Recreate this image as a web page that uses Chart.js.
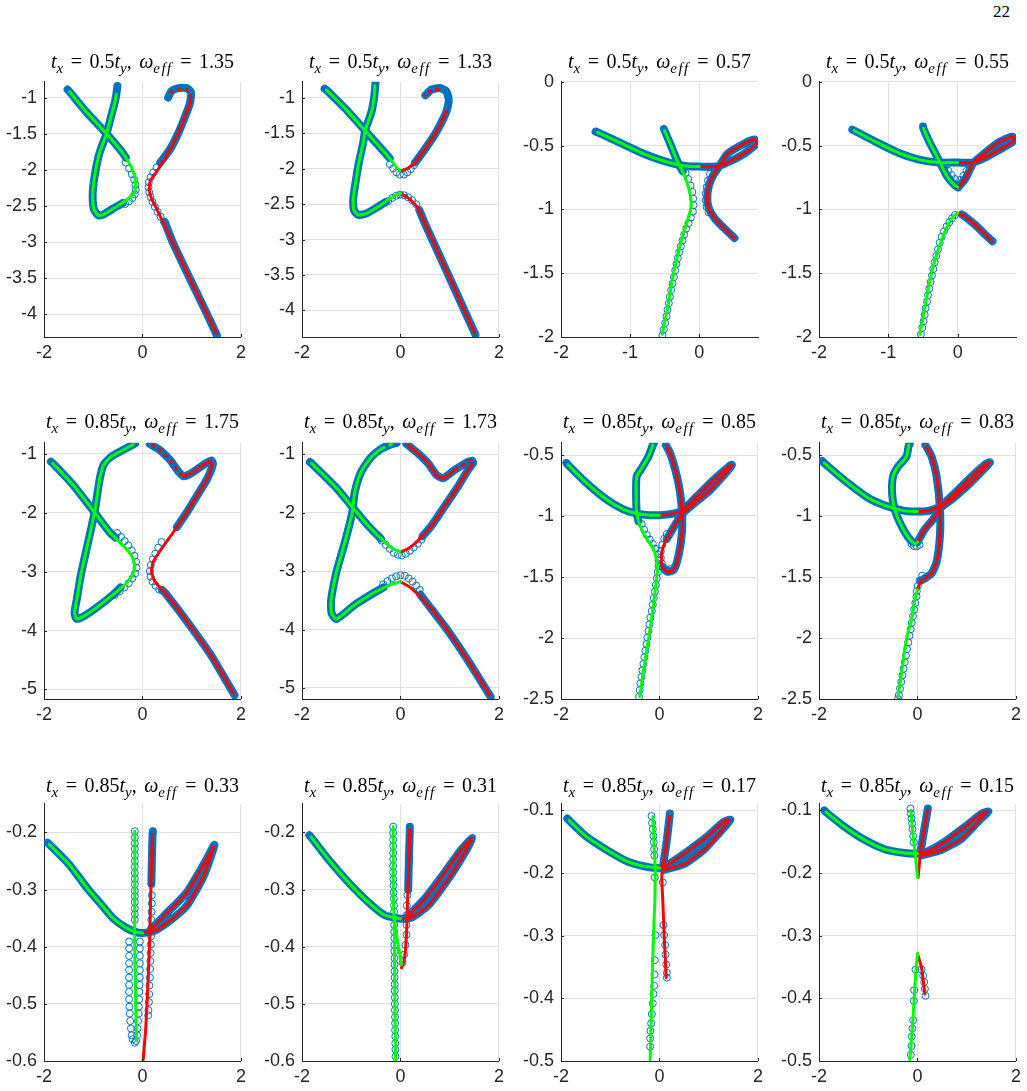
<!DOCTYPE html>
<html><head><meta charset="utf-8">
<script src="https://cdn.jsdelivr.net/npm/chart.js@4.4.0/dist/chart.umd.min.js"></script>
<style>
html,body{margin:0;padding:0;background:#fff;overflow:hidden;}
body{width:1027px;height:1091px;position:relative;}
canvas{position:absolute;}
.ttl{position:absolute;font:20px "Liberation Serif","Times New Roman",serif;color:#000;white-space:nowrap;line-height:20px;word-spacing:2.5px;transform:translateX(-50%);}
.ttl sub{font-size:75%;line-height:0;vertical-align:-0.3em;word-spacing:0;}
.ttl .ef{letter-spacing:1.5px;}
#pg{position:absolute;left:993px;top:3px;font:17px "Liberation Serif","Times New Roman",serif;line-height:17px;color:#000;}
</style></head><body>
<div id="pg">22</div>
<script>
// ---------- titles ----------
const txCoef = ['0.5','0.5','0.5','0.5','0.85','0.85','0.85','0.85','0.85','0.85','0.85','0.85'];
const omegaEff = ['1.35','1.33','0.57','0.55','1.75','1.73','0.85','0.83','0.33','0.31','0.17','0.15'];

// ---------- axis limits & ticks ----------
const xMin = [-2,-2,-2,-2,-2,-2,-2,-2,-2,-2,-2,-2];
const xMax = [2,2,0.85,0.84,2,2,2,2,2,2,2,2];
const yMin = [-4.314,-4.376,-2,-2,-5.163,-5.19,-2.5,-2.5,-0.6,-0.6,-0.5,-0.5];
const yMax = [-0.782,-0.773,0,0,-0.81,-0.80,-0.40,-0.40,-0.15,-0.15,-0.0895,-0.0895];
const xTicksA = [-2,0,2];
const xTicksB = [-2,-1,0];
const yTicks1 = [-4,-3.5,-3,-2.5,-2,-1.5,-1];
const yTicks3 = [-2,-1.5,-1,-0.5,0];
const yTicks5 = [-5,-4,-3,-2,-1];
const yTicks7 = [-2.5,-2,-1.5,-1,-0.5];
const yTicks9 = [-0.6,-0.5,-0.4,-0.3,-0.2];
const yTicks11 = [-0.5,-0.4,-0.3,-0.2,-0.1];

// ---------- panel 1 ----------
const p1_band = [[-1.52,-0.89],[-1.48,-0.92],[-1.14,-1.20],[-0.73,-1.50],[-0.43,-1.74],[-0.34,-1.83],null,
 [-0.40,-2.46],[-0.53,-2.51],[-0.80,-2.62],[-0.90,-2.63],[-0.99,-2.54],[-1.01,-2.31],[-0.96,-2.04],[-0.87,-1.76],[-0.73,-1.50],[-0.63,-1.24],[-0.56,-1.06],[-0.53,-0.95],[-0.51,-0.84],null,
 [1.51,-4.29],[1.313,-4.0],[0.959,-3.5],[0.612,-3.0],[0.45,-2.72],null,
 [0.36,-1.90],[0.558,-1.718],[0.728,-1.491],[0.864,-1.264],[0.952,-1.105],[0.98,-1.01],[0.98,-0.92],[0.90,-0.87],[0.73,-0.87],[0.59,-0.91],[0.52,-1.0]];
const p1_green = [[-1.48,-0.92],[-1.14,-1.20],[-0.73,-1.50],[-0.43,-1.74],[-0.22,-1.97],[-0.14,-2.17],[-0.16,-2.31],[-0.29,-2.40],[-0.53,-2.51],[-0.80,-2.62],[-0.90,-2.63],[-0.99,-2.54],[-1.01,-2.31],[-0.96,-2.04],[-0.87,-1.76],[-0.73,-1.50],[-0.63,-1.24],[-0.56,-1.06],[-0.53,-0.95]];
const p1_red = [[1.50,-4.26],[1.313,-4.0],[0.959,-3.5],[0.612,-3.0],[0.381,-2.673],[0.286,-2.536],[0.184,-2.40],[0.136,-2.264],[0.163,-2.15],[0.252,-2.059],[0.354,-1.955],[0.558,-1.718],[0.728,-1.491],[0.864,-1.264],[0.952,-1.105],[0.98,-1.01]];
const p1_redDash = [[0.98,-1.01],[0.97,-0.93],[0.88,-0.89],[0.72,-0.89],[0.58,-0.93],[0.52,-0.99]];
const p1_greenDash = [];
const p1_rings = [[-0.340,-1.900],[-0.272,-1.982],[-0.218,-2.059],[-0.170,-2.136],[-0.143,-2.209],[-0.136,-2.277],[-0.156,-2.341],[-0.204,-2.391],[-0.272,-2.436],[-0.354,-2.473],
 [0.286,-1.968],[0.218,-2.036],[0.163,-2.105],[0.129,-2.173],[0.122,-2.241],[0.136,-2.309],[0.163,-2.377],[0.204,-2.445],[0.252,-2.514],[0.306,-2.582],[0.367,-2.650],[0.435,-2.718]];

// ---------- panel 2 ----------
const p2_band = [[-1.54,-0.87],[-1.50,-0.89],[-1.128,-1.148],[-0.723,-1.458],[-0.318,-1.773],[-0.22,-1.85],null,
 [0.30,-1.91],[0.324,-1.889],[0.493,-1.727],[0.696,-1.519],[0.865,-1.30],[0.932,-1.194],[0.98,-1.032],[0.932,-0.907],[0.797,-0.861],[0.628,-0.884],[0.507,-0.963],null,
 [-0.507,-0.79],[-0.534,-0.986],[-0.588,-1.194],[-0.716,-1.458],[-0.757,-1.634],[-0.845,-1.912],[-0.912,-2.19],[-0.959,-2.421],[-0.946,-2.583],[-0.858,-2.653],[-0.689,-2.63],[-0.453,-2.537],[-0.30,-2.47],null,
 [0.38,-2.58],[0.507,-2.792],[0.75,-3.162],[0.993,-3.532],[1.264,-3.949],[1.52,-4.34]];
const p2_green = [[-1.50,-0.89],[-1.128,-1.148],[-0.723,-1.458],[-0.318,-1.773],[-0.115,-1.949],[-0.014,-2.028],null,
 [-0.52,-0.83],[-0.534,-0.986],[-0.588,-1.194],[-0.716,-1.458],[-0.757,-1.634],[-0.845,-1.912],[-0.912,-2.19],[-0.959,-2.421],[-0.946,-2.583],[-0.858,-2.653],[-0.689,-2.63],[-0.453,-2.537],[-0.216,-2.421],[-0.081,-2.366],[0,-2.352]];
const p2_red = [[0.02,-2.028],[0.155,-1.995],[0.324,-1.889],[0.493,-1.727],[0.696,-1.519],[0.865,-1.30],[0.932,-1.194],null,
 [0,-2.352],[0.155,-2.412],[0.358,-2.56],[0.507,-2.792],[0.75,-3.162],[0.993,-3.532],[1.264,-3.949],[1.507,-4.319]];
const p2_redDash = [[0.797,-0.88],[0.662,-0.884],[0.527,-0.94],[0.49,-0.98]];
const p2_greenDash = [];
const p2_rings = [[-0.216,-1.935],[-0.149,-1.995],[-0.081,-2.051],[-0.014,-2.083],[0.068,-2.083],[0.142,-2.051],[0.209,-2.005],[0.277,-1.949],
 [-0.25,-2.458],[-0.169,-2.412],[-0.088,-2.380],[-0.007,-2.366],[0.074,-2.375],[0.155,-2.403],[0.236,-2.444],[0.318,-2.50]];

// ---------- panel 3 ----------
const p3_band = [[-1.50,-0.39],[-1.469,-0.397],[-1.14,-0.479],[-0.802,-0.564],[-0.512,-0.621],[-0.295,-0.651],[-0.126,-0.664],[0,-0.664],[0.164,-0.666],[0.30,-0.658],[0.454,-0.621],[0.647,-0.564],[0.80,-0.50],[0.84,-0.475],[0.80,-0.452],[0.647,-0.485],[0.406,-0.565],[0.30,-0.654],[0.198,-0.736],[0.14,-0.813],[0.116,-0.915],[0.14,-0.992],[0.222,-1.069],[0.357,-1.146],[0.51,-1.225],null,
 [-0.51,-0.37],[-0.502,-0.382],[-0.425,-0.479],[-0.357,-0.569],[-0.295,-0.646],[-0.24,-0.70]];
const p3_green = [[-1.469,-0.397],[-1.14,-0.479],[-0.802,-0.564],[-0.512,-0.621],[-0.295,-0.651],[-0.126,-0.664],[0,-0.664],null,
 [-0.502,-0.382],[-0.425,-0.479],[-0.357,-0.569],[-0.295,-0.646],[-0.213,-0.736],[-0.15,-0.838],[-0.116,-0.941],[-0.126,-1.005],[-0.174,-1.095],[-0.246,-1.223],[-0.319,-1.377],[-0.391,-1.556],[-0.454,-1.762],[-0.502,-1.89],[-0.536,-1.979]];
const p3_red = [[0,-0.664],[0.164,-0.666],[0.30,-0.658],[0.454,-0.621],[0.647,-0.564],[0.80,-0.50],[0.84,-0.475],null,
 [0.502,-1.223],[0.357,-1.146],[0.222,-1.069],[0.14,-0.992],[0.116,-0.915],[0.14,-0.813],[0.198,-0.736],[0.30,-0.654],[0.406,-0.565],[0.647,-0.485],[0.80,-0.452],[0.84,-0.47]];
const p3_redDash = [];
const p3_greenDash = [];
const p3_rings = [[0.155,-0.723],[0.126,-0.774],[0.106,-0.826],[0.092,-0.877],[0.092,-0.928],[0.106,-0.979],[0.135,-1.023],
 [-0.198,-0.715],[-0.159,-0.762],[-0.126,-0.813],[-0.101,-0.864],[-0.087,-0.915],[-0.082,-0.967],[-0.092,-1.018],[-0.121,-1.064],[-0.155,-1.108],[-0.188,-1.151],[-0.217,-1.197],[-0.242,-1.244],[-0.266,-1.290],[-0.29,-1.336],[-0.309,-1.382],[-0.329,-1.428],[-0.348,-1.479],[-0.367,-1.531],[-0.386,-1.582],[-0.406,-1.633],[-0.425,-1.685],[-0.44,-1.736],[-0.459,-1.787],[-0.473,-1.838],[-0.493,-1.890],[-0.512,-1.941],[-0.531,-1.987]];

// ---------- panel 4 ----------
const p4_band = [[-1.52,-0.375],[-1.494,-0.382],[-1.195,-0.467],[-0.858,-0.556],[-0.569,-0.608],[-0.28,-0.633],[0,-0.633],[0.217,-0.633],[0.395,-0.595],[0.588,-0.536],[0.78,-0.475],[0.83,-0.445],[0.78,-0.43],[0.588,-0.475],[0.395,-0.556],[0.23,-0.633],[0.178,-0.685],[0.106,-0.762],[0.01,-0.826],null,
 [-0.50,-0.35],[-0.496,-0.364],[-0.424,-0.454],[-0.328,-0.556],[-0.255,-0.633],[-0.159,-0.736],[-0.063,-0.80],[0,-0.826],null,
 [0.06,-1.04],[0.106,-1.056],[0.25,-1.121],[0.395,-1.197],[0.50,-1.25]];
const p4_green = [[-1.494,-0.382],[-1.195,-0.467],[-0.858,-0.556],[-0.569,-0.608],[-0.28,-0.633],[0,-0.633],null,
 [-0.496,-0.364],[-0.424,-0.454],[-0.328,-0.556],[-0.255,-0.633],[-0.159,-0.736],[-0.063,-0.80],[0,-0.826],null,
 [-0.545,-1.979],[-0.472,-1.762],[-0.40,-1.556],[-0.304,-1.351],[-0.183,-1.172],[-0.087,-1.069],[0,-1.031]];
const p4_red = [[0,-0.633],[0.217,-0.633],[0.395,-0.595],[0.588,-0.536],[0.78,-0.475],[0.83,-0.445],null,
 [0.01,-0.826],[0.106,-0.762],[0.178,-0.685],[0.23,-0.633],[0.395,-0.556],[0.588,-0.475],[0.78,-0.43],[0.83,-0.445],null,
 [0,-1.031],[0.106,-1.056],[0.25,-1.121],[0.395,-1.197],[0.49,-1.249]];
const p4_redDash = [];
const p4_greenDash = [];
const p4_rings = [[-0.183,-0.664],[-0.135,-0.697],[-0.087,-0.731],[-0.039,-0.762],[0.034,-0.769],[0.082,-0.736],[0.13,-0.697],[0.178,-0.664],
 [-0.530,-1.979],[-0.511,-1.928],[-0.492,-1.877],[-0.477,-1.826],[-0.463,-1.774],[-0.443,-1.723],[-0.429,-1.672],[-0.410,-1.621],[-0.39,-1.569],[-0.371,-1.518],[-0.352,-1.467],[-0.333,-1.415],[-0.308,-1.364],[-0.284,-1.313],[-0.26,-1.262],[-0.231,-1.215],[-0.198,-1.172],[-0.159,-1.133],[-0.12,-1.10],[-0.082,-1.069],[-0.039,-1.044]];

// ---------- panel 5 ----------
const p5_band = [[-1.86,-1.13],[-1.823,-1.156],[-1.415,-1.52],[-0.973,-1.994],[-0.667,-2.33],[-0.55,-2.42],null,
 [-0.45,-3.27],[-0.599,-3.391],[-0.939,-3.615],[-1.20,-3.76],[-1.34,-3.80],[-1.38,-3.70],[-1.33,-3.45],[-1.25,-3.05],[-1.11,-2.52],[-0.973,-1.994],[-0.871,-1.436],[-0.789,-1.184],[-0.633,-1.045],[-0.395,-0.933],[-0.19,-0.838],[-0.15,-0.82],null,
 [0.15,-0.83],[0.184,-0.849],[0.354,-0.933],[0.558,-1.101],[0.728,-1.296],[0.83,-1.38],[1.0,-1.324],[1.238,-1.184],[1.40,-1.11],[1.43,-1.17],[1.306,-1.436],[1.102,-1.715],[0.898,-1.994],[0.70,-2.24],null,
 [0.40,-3.31],[0.49,-3.391],[0.898,-3.838],[1.374,-4.397],[1.87,-5.10]];
const p5_green = [[-1.823,-1.156],[-1.415,-1.52],[-0.973,-1.994],[-0.667,-2.33],[-0.395,-2.553],[-0.224,-2.721],[-0.156,-2.888],[-0.19,-3.028],[-0.327,-3.196],[-0.599,-3.391],[-0.939,-3.615],[-1.20,-3.76],[-1.34,-3.80],[-1.38,-3.70],[-1.33,-3.45],[-1.25,-3.05],[-1.11,-2.52],[-0.973,-1.994],[-0.871,-1.436],[-0.789,-1.184],[-0.633,-1.045],[-0.395,-0.933],[-0.19,-0.838]];
const p5_red = [[0.83,-1.38],[1.0,-1.324],[1.238,-1.184],[1.374,-1.128],[1.408,-1.184],[1.306,-1.436],[1.102,-1.715],[0.898,-1.994],[0.626,-2.33],[0.388,-2.609],[0.218,-2.832],[0.184,-3.0],[0.252,-3.168],[0.49,-3.391],[0.898,-3.838],[1.374,-4.397],[1.85,-5.067]];
const p5_redDash = [[0.184,-0.849],[0.354,-0.933],[0.558,-1.101],[0.728,-1.296],[0.83,-1.38]];
const p5_greenDash = [];
const p5_rings = [[-0.517,-2.341],[-0.435,-2.408],[-0.361,-2.480],[-0.286,-2.553],[-0.218,-2.637],[-0.163,-2.732],[-0.129,-2.832],[-0.122,-2.933],[-0.150,-3.028],[-0.204,-3.112],[-0.279,-3.196],[-0.367,-3.268],[-0.463,-3.335],[-0.565,-3.397],
 [0.388,-2.497],[0.32,-2.592],[0.259,-2.693],[0.211,-2.788],[0.17,-2.888],[0.15,-2.989],[0.163,-3.084],[0.204,-3.168],[0.265,-3.240],[0.34,-3.307]];

// ---------- panel 6 ----------
const p6_band = [[-1.84,-1.13],[-1.804,-1.152],[-1.331,-1.546],[-0.993,-1.885],[-0.655,-2.223],[-0.40,-2.44],null,
 [0.12,-0.82],[0.155,-0.842],[0.358,-0.983],[0.561,-1.152],[0.73,-1.349],[0.865,-1.406],[1.101,-1.265],[1.372,-1.124],[1.46,-1.11],[1.473,-1.152],[1.372,-1.265],[1.169,-1.546],[0.899,-1.885],[0.628,-2.223],[0.45,-2.40],null,
 [-0.08,-0.80],[-0.149,-0.814],[-0.385,-0.899],[-0.60,-1.05],[-0.80,-1.30],[-0.93,-1.65],[-0.98,-2.0],[-1.128,-2.5],[-1.297,-3.0],[-1.41,-3.5],[-1.40,-3.72],[-1.30,-3.82],[-0.926,-3.575],[-0.52,-3.361],[-0.35,-3.28],null,
 [0.40,-3.40],[0.561,-3.575],[0.966,-4.025],[1.372,-4.532],[1.83,-5.15]];
const p6_green = [[-1.804,-1.152],[-1.331,-1.546],[-0.993,-1.885],[-0.655,-2.223],[-0.318,-2.504],[-0.149,-2.617],[-0.014,-2.662],null,
 [-0.385,-0.899],[-0.60,-1.05],[-0.80,-1.30],[-0.93,-1.65],[-0.98,-2.0],[-1.128,-2.5],[-1.297,-3.0],[-1.41,-3.5],[-1.40,-3.72],[-1.30,-3.82],[-0.926,-3.575],[-0.52,-3.361],[-0.182,-3.225],[0,-3.18]];
const p6_red = [[0.02,-2.662],[0.155,-2.617],[0.358,-2.476],[0.628,-2.223],[0.899,-1.885],[1.169,-1.546],[1.372,-1.265],[1.46,-1.16],null,
 [0.155,-0.842],[0.358,-0.983],[0.561,-1.152],[0.73,-1.349],[0.865,-1.406],[1.101,-1.265],null,
 [0,-3.18],[0.223,-3.293],[0.561,-3.575],[0.966,-4.025],[1.372,-4.532],[1.811,-5.124]];
const p6_redDash = [[1.101,-1.265],[1.372,-1.124],[1.44,-1.10],[1.46,-1.16]];
const p6_greenDash = [[-0.385,-0.899],[-0.26,-0.85],[-0.149,-0.814]];
const p6_rings = [[-0.385,-2.476],[-0.297,-2.549],[-0.216,-2.617],[-0.135,-2.685],[-0.054,-2.718],[0.027,-2.730],[0.108,-2.701],[0.189,-2.651],[0.27,-2.594],[0.351,-2.532],[0.426,-2.459],
 [-0.351,-3.225],[-0.264,-3.169],[-0.176,-3.124],[-0.088,-3.09],[0,-3.068],[0.088,-3.079],[0.169,-3.124],[0.243,-3.18],[0.318,-3.248],[0.392,-3.321]];

// ---------- panel 7 ----------
const p7_band = [[-1.89,-0.565],[-1.857,-0.581],[-1.483,-0.729],[-1.075,-0.864],[-0.735,-0.945],[-0.463,-0.98],[-0.19,-0.993],[0,-0.993],[0.218,-0.985],[0.456,-0.958],[0.762,-0.837],[1.102,-0.702],[1.408,-0.594],[1.47,-0.58],[1.374,-0.635],[1.034,-0.785],[0.694,-0.90],[0.456,-0.985],[0.286,-1.093],[0.15,-1.187],null,
 [0.13,-0.42],[0.15,-0.433],[0.218,-0.487],[0.32,-0.621],[0.408,-0.783],[0.456,-0.958],[0.456,-1.133],[0.388,-1.322],[0.286,-1.443],[0.15,-1.457],[0.07,-1.42],null,
 [-0.12,-0.41],[-0.136,-0.419],[-0.224,-0.513],[-0.361,-0.608],[-0.463,-0.675],[-0.476,-0.783],[-0.463,-0.972],[-0.43,-1.04]];
const p7_green = [[-1.857,-0.581],[-1.483,-0.729],[-1.075,-0.864],[-0.735,-0.945],[-0.463,-0.98],[-0.19,-0.993],[0,-0.993],null,
 [-0.136,-0.419],[-0.224,-0.513],[-0.361,-0.608],[-0.463,-0.675],[-0.476,-0.783],[-0.463,-0.972],[-0.395,-1.08],[-0.259,-1.187],[-0.122,-1.268],[-0.06,-1.36],[-0.045,-1.45],[-0.07,-1.55],[-0.13,-1.75],[-0.22,-2.0],[-0.32,-2.25],[-0.40,-2.48]];
const p7_red = [[0,-0.993],[0.218,-0.985],[0.456,-0.958],[0.762,-0.837],[1.102,-0.702],[1.408,-0.594],[1.46,-0.585],null,
 [0.15,-0.433],[0.218,-0.487],[0.32,-0.621],[0.408,-0.783],[0.456,-0.958],[0.456,-1.133],[0.388,-1.322],[0.286,-1.443],[0.15,-1.457],[0.048,-1.403],[0.048,-1.295],[0.116,-1.214],[0.286,-1.093],[0.456,-0.985],[0.694,-0.90],[1.034,-0.785],[1.374,-0.635],[1.46,-0.585]];
const p7_redDash = [];
const p7_greenDash = [];
const p7_rings = [[0.15,-1.147],[0.095,-1.187],[0.054,-1.236],[0.027,-1.29],[0.027,-1.344],[0.048,-1.389],[0.095,-1.425],[0.163,-1.443],[0.245,-1.43],
 [-0.361,-1.066],[-0.313,-1.112],[-0.259,-1.155],[-0.197,-1.193],[-0.136,-1.228],[-0.082,-1.268],[-0.041,-1.314],[-0.020,-1.363],[-0.020,-1.411],[-0.034,-1.460],[-0.054,-1.511],[-0.075,-1.565],[-0.095,-1.619],[-0.116,-1.672],[-0.136,-1.726],[-0.156,-1.780],[-0.184,-1.834],[-0.204,-1.888],[-0.224,-1.942],[-0.245,-1.996],[-0.265,-2.050],[-0.286,-2.104],[-0.306,-2.158],[-0.327,-2.212],[-0.347,-2.265],[-0.367,-2.319],[-0.388,-2.373],[-0.401,-2.427],[-0.415,-2.481]];

// ---------- panel 8 ----------
const p8_band = [[-1.93,-0.55],[-1.891,-0.567],[-1.415,-0.729],[-1.007,-0.85],[-0.599,-0.923],[-0.259,-0.958],[0,-0.964],[0.218,-0.958],[0.456,-0.923],[0.762,-0.81],[1.102,-0.675],[1.408,-0.567],[1.47,-0.56],[1.374,-0.605],[1.034,-0.745],[0.694,-0.865],[0.456,-0.939],[0.32,-1.026],[0.15,-1.106],[0.0,-1.214],null,
 [0.16,-0.42],[0.184,-0.433],[0.286,-0.513],[0.388,-0.675],[0.456,-0.939],[0.456,-1.16],[0.388,-1.376],[0.286,-1.47],[0.15,-1.511],[0.07,-1.53],null,
 [-0.16,-0.41],[-0.177,-0.419],[-0.224,-0.513],[-0.395,-0.594],[-0.497,-0.675],[-0.517,-0.81],[-0.463,-0.945],[-0.327,-1.08],[-0.19,-1.174],[-0.11,-1.21]];
const p8_green = [[-1.891,-0.567],[-1.415,-0.729],[-1.007,-0.85],[-0.599,-0.923],[-0.259,-0.958],[0,-0.964],null,
 [-0.177,-0.419],[-0.224,-0.513],[-0.395,-0.594],[-0.497,-0.675],[-0.517,-0.81],[-0.463,-0.945],[-0.327,-1.08],[-0.19,-1.174],[-0.054,-1.228],[0,-1.214],null,
 [0,-1.605],[-0.05,-1.68],[-0.12,-1.85],[-0.22,-2.0],[-0.31,-2.25],[-0.395,-2.481]];
const p8_red = [[0,-0.964],[0.218,-0.958],[0.456,-0.923],[0.762,-0.81],[1.102,-0.675],[1.408,-0.567],[1.46,-0.56],null,
 [0,-1.214],[0.15,-1.106],[0.32,-1.026],[0.456,-0.939],[0.694,-0.865],[1.034,-0.745],[1.374,-0.605],[1.46,-0.56],null,
 [0.184,-0.433],[0.286,-0.513],[0.388,-0.675],[0.456,-0.939],[0.456,-1.16],[0.388,-1.376],[0.286,-1.47],[0.15,-1.511],[0.048,-1.551],[0,-1.605]];
const p8_redDash = [];
const p8_greenDash = [];
const p8_rings = [[-0.122,-1.228],[-0.068,-1.247],[-0.014,-1.249],[0.041,-1.236],
 [0.095,-1.489],[0.041,-1.530],[0.007,-1.573],[-0.014,-1.616],[-0.020,-1.659],[-0.044,-1.713],[-0.068,-1.767],[-0.092,-1.821],[-0.116,-1.875],[-0.139,-1.929],[-0.163,-1.982],[-0.187,-2.036],[-0.211,-2.090],[-0.235,-2.144],[-0.259,-2.198],[-0.282,-2.252],[-0.306,-2.306],[-0.33,-2.360],[-0.354,-2.414],[-0.378,-2.468],[-0.395,-2.50]];

// ---------- panel 9 ----------
const p9_band = [[-1.93,-0.218],[-1.891,-0.221],[-1.50,-0.255],[-1.10,-0.30],[-0.80,-0.33],[-0.60,-0.35],[-0.35,-0.366],[-0.15,-0.374],[0,-0.376],[0.25,-0.372],[0.55,-0.355],[0.90,-0.328],[1.25,-0.275],[1.46,-0.222],[1.25,-0.255],[0.90,-0.305],[0.45,-0.345],[0.15,-0.372],null,
 [0.21,-0.198],[0.204,-0.204],[0.19,-0.25],[0.18,-0.29]];
const p9_green = [[-1.891,-0.221],[-1.50,-0.255],[-1.10,-0.30],[-0.80,-0.33],[-0.60,-0.35],[-0.35,-0.366],[-0.15,-0.374],[0,-0.376],null,
 [-0.156,-0.198],[-0.156,-0.30],[-0.16,-0.376],[-0.15,-0.45],[-0.13,-0.53],[-0.12,-0.565]];
const p9_red = [[0,-0.376],[0.25,-0.372],[0.55,-0.355],[0.90,-0.328],[1.25,-0.275],[1.44,-0.226],null,
 [0.15,-0.372],[0.45,-0.345],[0.90,-0.305],[1.25,-0.255],[1.44,-0.226],null,
 [0.204,-0.204],[0.184,-0.253],[0.163,-0.322],[0.15,-0.379],[0.116,-0.454],[0.068,-0.54],[0.014,-0.598]];
const p9_redDash = [];
const p9_greenDash = [];
const p9_rings = [[-0.156,-0.198],[-0.156,-0.209],[-0.156,-0.219],[-0.156,-0.229],[-0.156,-0.240],[-0.156,-0.250],[-0.156,-0.260],[-0.156,-0.271],[-0.156,-0.281],[-0.156,-0.291],[-0.156,-0.302],[-0.156,-0.312],[-0.156,-0.322],[-0.156,-0.333],[-0.156,-0.343],[-0.156,-0.353],
 [-0.272,-0.391],[-0.272,-0.403],[-0.272,-0.416],[-0.272,-0.429],[-0.272,-0.441],[-0.272,-0.454],[-0.272,-0.467],[-0.272,-0.479],[-0.272,-0.492],[-0.265,-0.505],[-0.258,-0.517],[-0.25,-0.530],[-0.235,-0.543],[-0.22,-0.555],
 [-0.054,-0.391],[-0.054,-0.403],[-0.054,-0.416],[-0.054,-0.429],[-0.054,-0.441],[-0.054,-0.454],[-0.06,-0.467],[-0.065,-0.479],[-0.07,-0.492],[-0.075,-0.505],[-0.08,-0.517],[-0.09,-0.530],[-0.10,-0.543],[-0.11,-0.555],
 [-0.20,-0.562],[-0.156,-0.568],[-0.13,-0.565],
 [0.19,-0.31],[0.19,-0.324],[0.185,-0.339],[0.18,-0.353],[0.18,-0.367],[0.175,-0.382],[0.17,-0.396],[0.165,-0.411],[0.16,-0.425],[0.155,-0.439],[0.15,-0.454],[0.14,-0.468],[0.135,-0.483],[0.13,-0.497],[0.12,-0.511],[0.116,-0.52]];

// ---------- panel 10 ----------
const p10_band = [[-1.85,-0.205],[-1.818,-0.208],[-1.466,-0.247],[-1.061,-0.287],[-0.655,-0.322],[-0.318,-0.345],[0,-0.351],[0.223,-0.349],[0.561,-0.328],[0.966,-0.282],[1.304,-0.236],[1.46,-0.21],[1.236,-0.23],[0.899,-0.27],[0.493,-0.316],[0.122,-0.349],null,
 [0.19,-0.19],[0.189,-0.195],[0.169,-0.253],[0.155,-0.30]];
const p10_green = [[-1.818,-0.208],[-1.466,-0.247],[-1.061,-0.287],[-0.655,-0.322],[-0.318,-0.345],[0,-0.351],null,
 [-0.149,-0.19],[-0.149,-0.31],[-0.128,-0.351],[-0.115,-0.483],[-0.101,-0.598],null,
 [-0.128,-0.351],[-0.06,-0.39],[0.02,-0.431]];
const p10_red = [[0,-0.351],[0.223,-0.349],[0.561,-0.328],[0.966,-0.282],[1.304,-0.236],[1.439,-0.211],null,
 [0.122,-0.349],[0.493,-0.316],[0.899,-0.27],[1.236,-0.23],[1.439,-0.211],null,
 [0.189,-0.195],[0.169,-0.253],[0.142,-0.322],[0.122,-0.379],[0.074,-0.425],[0.02,-0.437]];
const p10_redDash = [];
const p10_greenDash = [];
const p10_rings = [[-0.149,-0.190],[-0.149,-0.201],[-0.149,-0.213],[-0.149,-0.224],[-0.149,-0.236],[-0.149,-0.247],[-0.149,-0.259],[-0.149,-0.270],[-0.145,-0.282],[-0.142,-0.293],[-0.138,-0.305],[-0.135,-0.316],[-0.132,-0.328],[-0.13,-0.339],
 [-0.128,-0.362],[-0.127,-0.374],[-0.126,-0.385],[-0.125,-0.397],[-0.124,-0.408],[-0.122,-0.420],[-0.121,-0.431],[-0.12,-0.443],[-0.119,-0.454],[-0.118,-0.466],[-0.117,-0.477],[-0.115,-0.489],[-0.114,-0.500],[-0.112,-0.511],[-0.111,-0.523],[-0.109,-0.534],[-0.108,-0.546],[-0.106,-0.557],[-0.105,-0.569],[-0.103,-0.580],[-0.101,-0.592],
 [0.142,-0.310],[0.128,-0.328],[0.122,-0.345],[0.122,-0.362],[0.122,-0.379],[0.101,-0.397],[0.074,-0.414],[0.041,-0.428]];

// ---------- panel 11 ----------
const p11_band = [[-1.87,-0.113],[-1.837,-0.116],[-1.483,-0.142],[-1.075,-0.163],[-0.667,-0.181],[-0.327,-0.189],[0,-0.192],[0.184,-0.186],[0.558,-0.166],[0.966,-0.142],[1.306,-0.118],[1.44,-0.115],[1.306,-0.128],[0.898,-0.163],[0.49,-0.186],[0.082,-0.195],null,
 [0.3,-0.187],[0.7,-0.165],[1.1,-0.137],[1.35,-0.12],null,
 [0.21,-0.105],[0.204,-0.11],[0.15,-0.147],[0.082,-0.184]];
const p11_green = [[-1.837,-0.116],[-1.483,-0.142],[-1.075,-0.163],[-0.667,-0.181],[-0.327,-0.189],[0,-0.192],null,
 [-0.136,-0.11],[-0.109,-0.158],[-0.088,-0.194],[-0.095,-0.247],[-0.122,-0.299],[-0.156,-0.393],[-0.19,-0.498]];
const p11_red = [[0,-0.192],[0.184,-0.186],[0.558,-0.166],[0.966,-0.142],[1.306,-0.118],[1.41,-0.115],null,
 [0.082,-0.195],[0.49,-0.186],[0.898,-0.163],[1.306,-0.128],[1.41,-0.115],null,
 [0.204,-0.11],[0.15,-0.147],[0.082,-0.184],[0.048,-0.205],[0.068,-0.247],[0.095,-0.299],[0.136,-0.367]];
const p11_redDash = [];
const p11_greenDash = [];
const p11_rings = [[-0.163,-0.109],[-0.15,-0.120],[-0.136,-0.130],[-0.122,-0.141],[-0.116,-0.151],[-0.109,-0.162],[-0.102,-0.172],[-0.095,-0.207],[-0.082,-0.299],[-0.095,-0.339],[-0.102,-0.362],[-0.109,-0.380],[-0.122,-0.393],[-0.136,-0.408],[-0.156,-0.425],[-0.170,-0.440],[-0.184,-0.452],[-0.190,-0.464],[-0.190,-0.477],
 [0.068,-0.215],[0.082,-0.283],[0.095,-0.299],[0.116,-0.315],[0.122,-0.330],[0.136,-0.346],[0.15,-0.359],[0.15,-0.367]];

// ---------- panel 12 ----------
const p12_band = [[-1.89,-0.1],[-1.857,-0.103],[-1.483,-0.126],[-1.075,-0.147],[-0.667,-0.162],[-0.259,-0.168],[0,-0.169],[0.218,-0.165],[0.558,-0.15],[0.966,-0.126],[1.306,-0.105],[1.44,-0.102],[1.306,-0.112],[0.898,-0.145],[0.49,-0.163],[0.082,-0.172],null,
 [0.3,-0.166],[0.7,-0.148],[1.1,-0.124],[1.35,-0.107],null,
 [0.21,-0.097],[0.204,-0.1],[0.136,-0.131],[0.068,-0.163]];
const p12_green = [[-1.857,-0.103],[-1.483,-0.126],[-1.075,-0.147],[-0.667,-0.162],[-0.259,-0.168],[0,-0.169],null,
 [-0.136,-0.1],[-0.088,-0.142],[-0.041,-0.173],[0,-0.207],null,
 [0,-0.329],[-0.02,-0.345],[-0.054,-0.383],[-0.102,-0.446],[-0.156,-0.498]];
const p12_red = [[0,-0.169],[0.218,-0.165],[0.558,-0.15],[0.966,-0.126],[1.306,-0.105],[1.41,-0.102],null,
 [0.082,-0.172],[0.49,-0.163],[0.898,-0.145],[1.306,-0.112],[1.41,-0.102],null,
 [0.204,-0.1],[0.136,-0.131],[0.068,-0.163],[0.027,-0.194],[0.014,-0.207],null,
 [0,-0.329],[0.082,-0.351],[0.15,-0.393]];
const p12_redDash = [];
const p12_greenDash = [];
const p12_rings = [[-0.143,-0.097],[-0.136,-0.105],[-0.122,-0.113],[-0.109,-0.121],[-0.102,-0.130],[-0.088,-0.141],[-0.075,-0.151],
 [-0.041,-0.354],[-0.068,-0.387],[-0.075,-0.404],[-0.088,-0.435],[-0.102,-0.448],[-0.116,-0.461],[-0.122,-0.476],[-0.136,-0.490],
 [0.082,-0.354],[0.116,-0.364],[0.136,-0.374],[0.15,-0.385],[0.163,-0.396]];

// ---------- assemble ----------
const panels = [
 {band:p1_band,green:p1_green,red:p1_red,gd:p1_greenDash,rd:p1_redDash,rings:p1_rings,yt:yTicks1,xt:xTicksA},
 {band:p2_band,green:p2_green,red:p2_red,gd:p2_greenDash,rd:p2_redDash,rings:p2_rings,yt:yTicks1,xt:xTicksA},
 {band:p3_band,green:p3_green,red:p3_red,gd:p3_greenDash,rd:p3_redDash,rings:p3_rings,yt:yTicks3,xt:xTicksB},
 {band:p4_band,green:p4_green,red:p4_red,gd:p4_greenDash,rd:p4_redDash,rings:p4_rings,yt:yTicks3,xt:xTicksB},
 {band:p5_band,green:p5_green,red:p5_red,gd:p5_greenDash,rd:p5_redDash,rings:p5_rings,yt:yTicks5,xt:xTicksA},
 {band:p6_band,green:p6_green,red:p6_red,gd:p6_greenDash,rd:p6_redDash,rings:p6_rings,yt:yTicks5,xt:xTicksA},
 {band:p7_band,green:p7_green,red:p7_red,gd:p7_greenDash,rd:p7_redDash,rings:p7_rings,yt:yTicks7,xt:xTicksA},
 {band:p8_band,green:p8_green,red:p8_red,gd:p8_greenDash,rd:p8_redDash,rings:p8_rings,yt:yTicks7,xt:xTicksA},
 {band:p9_band,green:p9_green,red:p9_red,gd:p9_greenDash,rd:p9_redDash,rings:p9_rings,yt:yTicks9,xt:xTicksA},
 {band:p10_band,green:p10_green,red:p10_red,gd:p10_greenDash,rd:p10_redDash,rings:p10_rings,yt:yTicks9,xt:xTicksA},
 {band:p11_band,green:p11_green,red:p11_red,gd:p11_greenDash,rd:p11_redDash,rings:p11_rings,yt:yTicks11,xt:xTicksA},
 {band:p12_band,green:p12_green,red:p12_red,gd:p12_greenDash,rd:p12_redDash,rings:p12_rings,yt:yTicks11,xt:xTicksA}
];

// layout (pixels)
const colLeft = [44, 302, 561, 819];
const plotW = 197;
const rowTop = [78, 439, 800];
const rowH = [259, 260, 261];
const titleBase = [68, 428, 792];
const PADL = 44, PADT = 14, PADR = 10, PADB = 30;

const BLUE = '#0072BD', GREEN = '#00FF00', RED = '#FF0000';
const AXC = '#262626', GRIDC = '#dfdfdf';
const tickFont = {family:'"Liberation Sans", Arial, Helvetica, sans-serif', size:18};

// inward tick marks (MATLAB style) on left and bottom axes
const inTicks = {
  id:'inTicks',
  afterDatasetsDraw(chart){
    const {ctx, chartArea:a, scales:{x,y}} = chart;
    ctx.save(); ctx.strokeStyle=AXC; ctx.lineWidth=1; ctx.beginPath();
    x.ticks.forEach(t=>{ const px=Math.round(x.getPixelForValue(t.value))+0.5; ctx.moveTo(px,a.bottom); ctx.lineTo(px,a.bottom-3); });
    y.ticks.forEach(t=>{ const py=Math.round(y.getPixelForValue(t.value))+0.5; ctx.moveTo(a.left,py); ctx.lineTo(a.left+3,py); });
    ctx.stroke(); ctx.restore();
  }
};

function segs(arr){
  const out=[]; let cur=[];
  for(const p of arr){
    if(p===null){ if(cur.length) out.push(cur); cur=[]; }
    else cur.push({x:p[0],y:p[1]});
  }
  if(cur.length) out.push(cur);
  return out;
}

panels.forEach((P,i)=>{
  const r = Math.floor(i/4), c = i%4;
  const cv = document.createElement('canvas');
  const W = PADL + plotW + PADR, H = PADT + rowH[r] + PADB;
  cv.width = W; cv.height = H;
  cv.style.left = (colLeft[c]-PADL)+'px';
  cv.style.top = (rowTop[r]-PADT)+'px';
  cv.style.width = W+'px'; cv.style.height = H+'px';
  document.body.appendChild(cv);

  const t = document.createElement('div');
  t.className='ttl';
  t.innerHTML = '<i>t</i><sub><i>x</i></sub> = '+txCoef[i]+'<i>t</i><sub><i>y</i></sub>, <i>ω</i><sub><i class="ef">eff</i></sub> = '+omegaEff[i];
  t.style.left = (colLeft[c]+plotW/2)+'px';
  t.style.top = (titleBase[r]-17)+'px';
  document.body.appendChild(t);

  const ds=[];
  segs(P.band).forEach(s=>ds.push({data:s,showLine:true,borderColor:BLUE,borderWidth:8,pointRadius:0,borderCapStyle:'round',borderJoinStyle:'round',tension:0.2,order:4}));
  ds.push({data:P.rings.map(p=>({x:p[0],y:p[1]})),showLine:false,pointRadius:3.5,pointBorderWidth:1,pointBorderColor:BLUE,pointBackgroundColor:'rgba(255,255,255,0)',order:3});
  segs(P.green).forEach(s=>ds.push({data:s,showLine:true,borderColor:GREEN,borderWidth:3,pointRadius:0,borderCapStyle:'round',borderJoinStyle:'round',tension:0.2,order:1}));
  segs(P.red).forEach(s=>ds.push({data:s,showLine:true,borderColor:RED,borderWidth:3,pointRadius:0,borderCapStyle:'round',borderJoinStyle:'round',tension:0.2,order:1}));
  segs(P.gd).forEach(s=>ds.push({data:s,showLine:true,borderColor:GREEN,borderWidth:3,borderDash:[4,4],pointRadius:0,tension:0.2,order:1}));
  segs(P.rd).forEach(s=>ds.push({data:s,showLine:true,borderColor:RED,borderWidth:3,borderDash:[4,4],pointRadius:0,tension:0.2,order:1}));

  new Chart(cv,{
    type:'scatter',
    data:{datasets:ds},
    plugins:[inTicks],
    options:{
      responsive:false, animation:false, devicePixelRatio:1, events:[],
      layout:{padding:{left:0,right:PADR,top:PADT,bottom:0}},
      plugins:{legend:{display:false},tooltip:{enabled:false},title:{display:false}},
      scales:{
        x:{type:'linear',min:xMin[i],max:xMax[i],
          afterBuildTicks:s=>{s.ticks=P.xt.map(v=>({value:v}));},
          afterFit:s=>{s.height=PADB;},
          grid:{color:GRIDC,drawTicks:false,lineWidth:1},
          border:{color:AXC,width:1},
          ticks:{padding:5,color:AXC,font:tickFont,maxRotation:0,autoSkip:false,callback:v=>String(v)}},
        y:{type:'linear',min:yMin[i],max:yMax[i],
          afterBuildTicks:s=>{s.ticks=P.yt.map(v=>({value:v}));},
          afterFit:s=>{s.width=PADL;},
          grid:{color:GRIDC,drawTicks:false,lineWidth:1},
          border:{color:AXC,width:1},
          ticks:{padding:7,color:AXC,font:tickFont,autoSkip:false,callback:v=>String(v)}}
      }
    }
  });
});
</script>
</body></html>
